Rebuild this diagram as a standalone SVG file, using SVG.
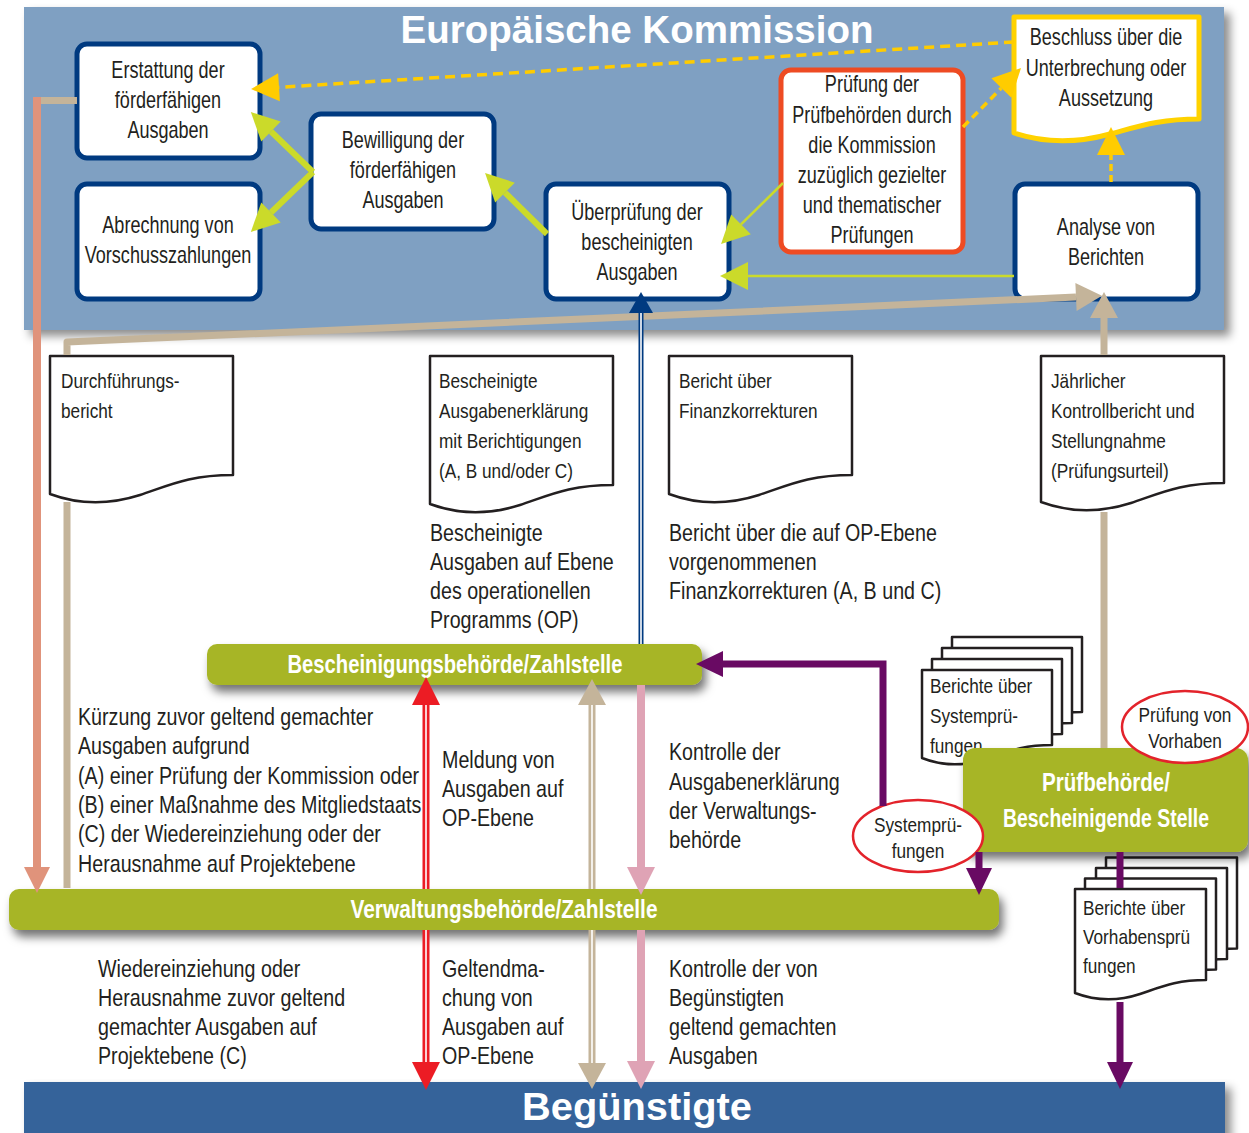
<svg xmlns="http://www.w3.org/2000/svg" xmlns:xlink="http://www.w3.org/1999/xlink" width="1249" height="1133" viewBox="0 0 1249 1133">
<style>
.t{font-family:"Liberation Sans",Arial,sans-serif;fill:#231f20}
.bx{font-size:23px;text-anchor:middle}
.dc{font-size:21px}
.cap{font-size:24px}
.el{font-size:21px;text-anchor:middle}
.wb{font-family:"Liberation Sans",Arial,sans-serif;font-weight:bold;fill:#fff;text-anchor:middle}
.box{fill:#fff;stroke:#003a80;stroke-width:5}
.doc{fill:#fff;stroke:#231f20;stroke-width:2.5;stroke-linejoin:round}
.bar{fill:#a7b526}
.ell{fill:#fff;stroke:#e3232b;stroke-width:2.5}
.ln{fill:none}
</style>
<defs>
<filter id="sh" x="-5%" y="-30%" width="112%" height="180%"><feDropShadow dx="4" dy="7" stdDeviation="5" flood-color="#000" flood-opacity="0.55"/></filter>
<filter id="shp" x="-5%" y="-5%" width="112%" height="115%"><feDropShadow dx="6" dy="6" stdDeviation="5" flood-color="#000" flood-opacity="0.45"/></filter>
<path id="sdoc" d="M0,0 h130 v75 c-30,0 -45,7 -66,14 c-18,6 -39,9 -64,-1 z"/>
<path id="vdoc" d="M0,0 h131 v91 c-30,0 -45,7 -66,14 c-18,6 -39,9 -65,-1 z"/>
<marker id="aY" markerUnits="userSpaceOnUse" markerWidth="28" markerHeight="28" viewBox="0 -14 28 28" refX="0" refY="0" orient="auto" overflow="visible"><path d="M0,-14L28,0L0,14z" fill="#ffcc00"/></marker>
<marker id="aL" markerUnits="userSpaceOnUse" markerWidth="28" markerHeight="28" viewBox="0 -14 28 28" refX="0" refY="0" orient="auto" overflow="visible"><path d="M0,-14L28,0L0,14z" fill="#cbda2a"/></marker>
<marker id="aT" markerUnits="userSpaceOnUse" markerWidth="26" markerHeight="28" viewBox="0 -14 26 28" refX="0" refY="0" orient="auto-start-reverse" overflow="visible"><path d="M0,-14L26,0L0,14z" fill="#c4b49a"/></marker>
<marker id="aB" markerUnits="userSpaceOnUse" markerWidth="21" markerHeight="24" viewBox="0 -12 21 24" refX="0" refY="0" orient="auto" overflow="visible"><path d="M0,-12L21,0L0,12z" fill="#003a80"/></marker>
<marker id="aR" markerUnits="userSpaceOnUse" markerWidth="28" markerHeight="28" viewBox="0 -14 28 28" refX="0" refY="0" orient="auto-start-reverse" overflow="visible"><path d="M0,-14L28,0L0,14z" fill="#ec1c24"/></marker>
<marker id="aP" markerUnits="userSpaceOnUse" markerWidth="28" markerHeight="28" viewBox="0 -14 28 28" refX="0" refY="0" orient="auto" overflow="visible"><path d="M0,-14L28,0L0,14z" fill="#dfa3b5"/></marker>
<marker id="aV" markerUnits="userSpaceOnUse" markerWidth="27" markerHeight="26" viewBox="0 -13 27 26" refX="0" refY="0" orient="auto" overflow="visible"><path d="M0,-13L27,0L0,13z" fill="#690a63"/></marker>
<marker id="aS" markerUnits="userSpaceOnUse" markerWidth="26" markerHeight="26" viewBox="0 -13 26 26" refX="0" refY="0" orient="auto" overflow="visible"><path d="M0,-13L26,0L0,13z" fill="#e0937b"/></marker>
</defs>

<rect width="1249" height="1133" fill="#fff"/>

<g id="kommission">
<rect x="24" y="7" width="1200" height="323" fill="#7fa0c2" filter="url(#shp)"/>
<text class="wb" x="637" y="43" font-size="39" textLength="473" lengthAdjust="spacingAndGlyphs">Europäische Kommission</text>
</g>

<g id="erstattung">
<rect class="box" x="77" y="44" width="183" height="114" rx="10"/>
<g transform="translate(168 0) scale(.785 1)">
<text class="t bx" x="0" y="78">Erstattung der</text>
<text class="t bx" x="0" y="108">förderfähigen</text>
<text class="t bx" x="0" y="138">Ausgaben</text>
</g>
</g>
<g id="abrechnung">
<rect class="box" x="77" y="184" width="183" height="115" rx="10"/>
<g transform="translate(168 0) scale(.785 1)">
<text class="t bx" x="0" y="233">Abrechnung von</text>
<text class="t bx" x="0" y="263">Vorschusszahlungen</text>
</g>
</g>
<g id="bewilligung">
<rect class="box" x="311" y="114" width="183" height="115" rx="10"/>
<g transform="translate(403 0) scale(.785 1)">
<text class="t bx" x="0" y="148">Bewilligung der</text>
<text class="t bx" x="0" y="178">förderfähigen</text>
<text class="t bx" x="0" y="208">Ausgaben</text>
</g>
</g>
<g id="ueberpruefung">
<rect class="box" x="546" y="184" width="183" height="115" rx="10"/>
<g transform="translate(637 0) scale(.785 1)">
<text class="t bx" x="0" y="220">Überprüfung der</text>
<text class="t bx" x="0" y="250">bescheinigten</text>
<text class="t bx" x="0" y="280">Ausgaben</text>
</g>
</g>
<g id="pruefung-kommission">
<rect x="781" y="70" width="182" height="182" rx="10" fill="#fff" stroke="#ee4b23" stroke-width="5"/>
<g transform="translate(872 0) scale(.785 1)">
<text class="t bx" x="0" y="92">Prüfung der</text>
<text class="t bx" x="0" y="123">Prüfbehörden durch</text>
<text class="t bx" x="0" y="153">die Kommission</text>
<text class="t bx" x="0" y="183">zuzüglich gezielter</text>
<text class="t bx" x="0" y="213">und thematischer</text>
<text class="t bx" x="0" y="243">Prüfungen</text>
</g>
</g>
<g id="beschluss">
<path d="M1014,17 H1199 V119 C1160,119 1140,126 1110,134 C1085,141 1050,145 1014,133 Z" fill="#fff" stroke="#ffd200" stroke-width="5" stroke-linejoin="round"/>
<g transform="translate(1106 0) scale(.785 1)">
<text class="t bx" x="0" y="45">Beschluss über die</text>
<text class="t bx" x="0" y="76">Unterbrechung oder</text>
<text class="t bx" x="0" y="106">Aussetzung</text>
</g>
</g>
<g id="analyse">
<rect class="box" x="1015" y="184" width="183" height="115" rx="10"/>
<g transform="translate(1106 0) scale(.785 1)">
<text class="t bx" x="0" y="235">Analyse von</text>
<text class="t bx" x="0" y="265">Berichten</text>
</g>
</g>

<g id="durchfuehrungsbericht">
<path class="doc" d="M50,356 H233 V475 C190,475 170,485 140,495 C115,503 85,507 50,494 Z"/>
<g transform="translate(61 0) scale(.82 1)">
<text class="t dc" x="0" y="388">Durchführungs-</text>
<text class="t dc" x="0" y="418">bericht</text>
</g>
</g>
<g id="ausgabenerklaerung">
<path class="doc" d="M430,356 H613 V485 C570,485 550,495 520,505 C495,513 465,517 430,504 Z"/>
<g transform="translate(439 0) scale(.82 1)">
<text class="t dc" x="0" y="388">Bescheinigte</text>
<text class="t dc" x="0" y="418">Ausgabenerklärung</text>
<text class="t dc" x="0" y="448">mit Berichtigungen</text>
<text class="t dc" x="0" y="478">(A, B und/oder C)</text>
</g>
</g>
<g id="finanzkorrekturen">
<path class="doc" d="M669,356 H852 V475 C809,475 789,485 759,495 C734,503 704,507 669,494 Z"/>
<g transform="translate(679 0) scale(.82 1)">
<text class="t dc" x="0" y="388">Bericht über</text>
<text class="t dc" x="0" y="418">Finanzkorrekturen</text>
</g>
</g>
<g id="kontrollbericht">
<path class="doc" d="M1041,356 H1224 V483 C1181,483 1161,493 1131,503 C1106,511 1076,515 1041,502 Z"/>
<g transform="translate(1051 0) scale(.82 1)">
<text class="t dc" x="0" y="388">Jährlicher</text>
<text class="t dc" x="0" y="418">Kontrollbericht und</text>
<text class="t dc" x="0" y="448">Stellungnahme</text>
<text class="t dc" x="0" y="478">(Prüfungsurteil)</text>
</g>
</g>

<g id="captions">
<g transform="translate(430 0) scale(.82 1)">
<text class="t cap" x="0" y="541">Bescheinigte</text>
<text class="t cap" x="0" y="570">Ausgaben auf Ebene</text>
<text class="t cap" x="0" y="599">des operationellen</text>
<text class="t cap" x="0" y="628">Programms (OP)</text>
</g>
<g transform="translate(669 0) scale(.82 1)">
<text class="t cap" x="0" y="541">Bericht über die auf OP-Ebene</text>
<text class="t cap" x="0" y="570">vorgenommenen</text>
<text class="t cap" x="0" y="599">Finanzkorrekturen (A, B und C)</text>
</g>
<g transform="translate(78 0) scale(.82 1)">
<text class="t cap" x="0" y="725">Kürzung zuvor geltend gemachter</text>
<text class="t cap" x="0" y="754">Ausgaben aufgrund</text>
<text class="t cap" x="0" y="784">(A) einer Prüfung der Kommission oder</text>
<text class="t cap" x="0" y="813">(B) einer Maßnahme des Mitgliedstaats</text>
<text class="t cap" x="0" y="842">(C) der Wiedereinziehung oder der</text>
<text class="t cap" x="0" y="872">Herausnahme auf Projektebene</text>
</g>
<g transform="translate(442 0) scale(.82 1)">
<text class="t cap" x="0" y="768">Meldung von</text>
<text class="t cap" x="0" y="797">Ausgaben auf</text>
<text class="t cap" x="0" y="826">OP-Ebene</text>
</g>
<g transform="translate(669 0) scale(.82 1)">
<text class="t cap" x="0" y="760">Kontrolle der</text>
<text class="t cap" x="0" y="790">Ausgabenerklärung</text>
<text class="t cap" x="0" y="819">der Verwaltungs-</text>
<text class="t cap" x="0" y="848">behörde</text>
</g>
<g transform="translate(98 0) scale(.82 1)">
<text class="t cap" x="0" y="977">Wiedereinziehung oder</text>
<text class="t cap" x="0" y="1006">Herausnahme zuvor geltend</text>
<text class="t cap" x="0" y="1035">gemachter Ausgaben auf</text>
<text class="t cap" x="0" y="1064">Projektebene (C)</text>
</g>
<g transform="translate(442 0) scale(.82 1)">
<text class="t cap" x="0" y="977">Geltendma-</text>
<text class="t cap" x="0" y="1006">chung von</text>
<text class="t cap" x="0" y="1035">Ausgaben auf</text>
<text class="t cap" x="0" y="1064">OP-Ebene</text>
</g>
<g transform="translate(669 0) scale(.82 1)">
<text class="t cap" x="0" y="977">Kontrolle der von</text>
<text class="t cap" x="0" y="1006">Begünstigten</text>
<text class="t cap" x="0" y="1035">geltend gemachten</text>
<text class="t cap" x="0" y="1064">Ausgaben</text>
</g>
</g>

<g id="berichte-systempruefungen">
<use href="#sdoc" class="doc" x="952" y="637"/>
<use href="#sdoc" class="doc" x="942" y="648"/>
<use href="#sdoc" class="doc" x="932" y="659"/>
<use href="#sdoc" class="doc" x="922" y="670"/>
<g transform="translate(930 0) scale(.82 1)">
<text class="t dc" x="0" y="693">Berichte über</text>
<text class="t dc" x="0" y="723">Systemprü-</text>
<text class="t dc" x="0" y="753">fungen</text>
</g>
</g>
<g id="berichte-vorhabenspruefungen">
<use href="#vdoc" class="doc" x="1106" y="857.5"/>
<use href="#vdoc" class="doc" x="1096" y="868"/>
<use href="#vdoc" class="doc" x="1085" y="878.5"/>
<use href="#vdoc" class="doc" x="1075" y="889"/>
<g transform="translate(1083 0) scale(.82 1)">
<text class="t dc" x="0" y="915">Berichte über</text>
<text class="t dc" x="0" y="944">Vorhabensprü</text>
<text class="t dc" x="0" y="973">fungen</text>
</g>
</g>

<g id="bescheinigungsbehoerde">
<rect class="bar" x="207" y="644" width="495" height="41" rx="10" filter="url(#sh)"/>
<text class="wb" x="455" y="673" font-size="25" textLength="335" lengthAdjust="spacingAndGlyphs">Bescheinigungsbehörde/Zahlstelle</text>
</g>
<g id="verwaltungsbehoerde">
<rect class="bar" x="9" y="889" width="990" height="41" rx="10" filter="url(#sh)"/>
<text class="wb" x="504" y="918" font-size="25" textLength="307" lengthAdjust="spacingAndGlyphs">Verwaltungsbehörde/Zahlstelle</text>
</g>
<g id="pruefbehoerde">
<rect class="bar" x="963" y="748" width="285" height="104" rx="12" filter="url(#sh)"/>
<text class="wb" x="1106" y="791" font-size="26" textLength="128" lengthAdjust="spacingAndGlyphs">Prüfbehörde/</text>
<text class="wb" x="1106" y="827" font-size="26" textLength="206" lengthAdjust="spacingAndGlyphs">Bescheinigende Stelle</text>
</g>
<g id="pruefung-vorhaben">
<ellipse class="ell" cx="1185" cy="727" rx="63" ry="36"/>
<g transform="translate(1185 0) scale(.82 1)">
<text class="t el" x="0" y="722">Prüfung von</text>
<text class="t el" x="0" y="748">Vorhaben</text>
</g>
</g>
<g id="systempruefungen">
<ellipse class="ell" cx="918" cy="836" rx="65" ry="36"/>
<g transform="translate(918 0) scale(.82 1)">
<text class="t el" x="0" y="832">Systemprü-</text>
<text class="t el" x="0" y="858">fungen</text>
</g>
</g>
<g id="beguenstigte">
<rect x="24" y="1082" width="1201" height="60" fill="#34649a" filter="url(#shp)"/>
<text class="wb" x="637" y="1120" font-size="39" textLength="230" lengthAdjust="spacingAndGlyphs">Begünstigte</text>
</g>

<g id="connectors" class="ln">
<line x1="1014" y1="42" x2="279" y2="87.3" stroke="#ffcc00" stroke-width="3.5" stroke-dasharray="10 6" marker-end="url(#aY)"/>
<line x1="963" y1="127" x2="1001.4" y2="88" stroke="#ffcc00" stroke-width="3.5" stroke-dasharray="8 5" marker-end="url(#aY)"/>
<line x1="1111" y1="182" x2="1111" y2="155" stroke="#ffcc00" stroke-width="3.5" stroke-dasharray="7 4" marker-end="url(#aY)"/>
<line x1="313" y1="172" x2="271" y2="131.5" stroke="#cbda2a" stroke-width="6" marker-end="url(#aL)"/>
<line x1="313" y1="172" x2="271" y2="212.5" stroke="#cbda2a" stroke-width="6" marker-end="url(#aL)"/>
<line x1="547" y1="234" x2="505" y2="192.6" stroke="#cbda2a" stroke-width="6" marker-end="url(#aL)"/>
<line x1="783" y1="183" x2="741" y2="224.4" stroke="#cbda2a" stroke-width="2.5" marker-end="url(#aL)"/>
<line x1="1014" y1="276" x2="748" y2="276" stroke="#cbda2a" stroke-width="2.5" marker-end="url(#aL)"/>
<line x1="37" y1="100.5" x2="77" y2="100.5" stroke="#c4b49a" stroke-width="7"/>
<line x1="67" y1="888" x2="67" y2="502" stroke="#c4b49a" stroke-width="7"/>
<polyline points="67,355 67,342 1076,297" stroke="#c4b49a" stroke-width="7" stroke-linejoin="round" marker-end="url(#aT)"/>
<line x1="1104" y1="748" x2="1104" y2="512" stroke="#c4b49a" stroke-width="7"/>
<line x1="1104" y1="355" x2="1104" y2="318" stroke="#c4b49a" stroke-width="7" marker-end="url(#aT)"/>
<line x1="37" y1="97" x2="37" y2="867" stroke="#e0937b" stroke-width="8" marker-end="url(#aS)"/>
<line x1="641" y1="644" x2="641" y2="313" stroke="#003a80" stroke-width="5" marker-end="url(#aB)"/>
<line x1="641" y1="644" x2="641" y2="313" stroke="#fff" stroke-width="1.6"/>
<line x1="426" y1="705" x2="426" y2="889" stroke="#ec1c24" stroke-width="7" marker-start="url(#aR)"/>
<line x1="426" y1="705" x2="426" y2="889" stroke="#fff" stroke-width="1.6"/>
<line x1="426" y1="930" x2="426" y2="1062" stroke="#ec1c24" stroke-width="7" marker-end="url(#aR)"/>
<line x1="426" y1="930" x2="426" y2="1062" stroke="#fff" stroke-width="1.6"/>
<line x1="592" y1="705" x2="592" y2="889" stroke="#c4b49a" stroke-width="7" marker-start="url(#aT)"/>
<line x1="592" y1="705" x2="592" y2="889" stroke="#fff" stroke-width="1.6"/>
<line x1="592" y1="930" x2="592" y2="1063" stroke="#c4b49a" stroke-width="7" marker-end="url(#aT)"/>
<line x1="592" y1="930" x2="592" y2="1063" stroke="#fff" stroke-width="1.6"/>
<line x1="641" y1="685" x2="641" y2="867" stroke="#dfa3b5" stroke-width="8" marker-end="url(#aP)"/>
<line x1="641" y1="930" x2="641" y2="1061" stroke="#dfa3b5" stroke-width="8" marker-end="url(#aP)"/>
<polyline points="883,806 883,664 723,664" stroke="#690a63" stroke-width="7" marker-end="url(#aV)"/>
<line x1="979" y1="852" x2="979" y2="868" stroke="#690a63" stroke-width="7" marker-end="url(#aV)"/>
<line x1="1120" y1="852" x2="1120" y2="888" stroke="#690a63" stroke-width="7"/>
<line x1="1120" y1="1002" x2="1120" y2="1062" stroke="#690a63" stroke-width="7" marker-end="url(#aV)"/>
</g>
</svg>
